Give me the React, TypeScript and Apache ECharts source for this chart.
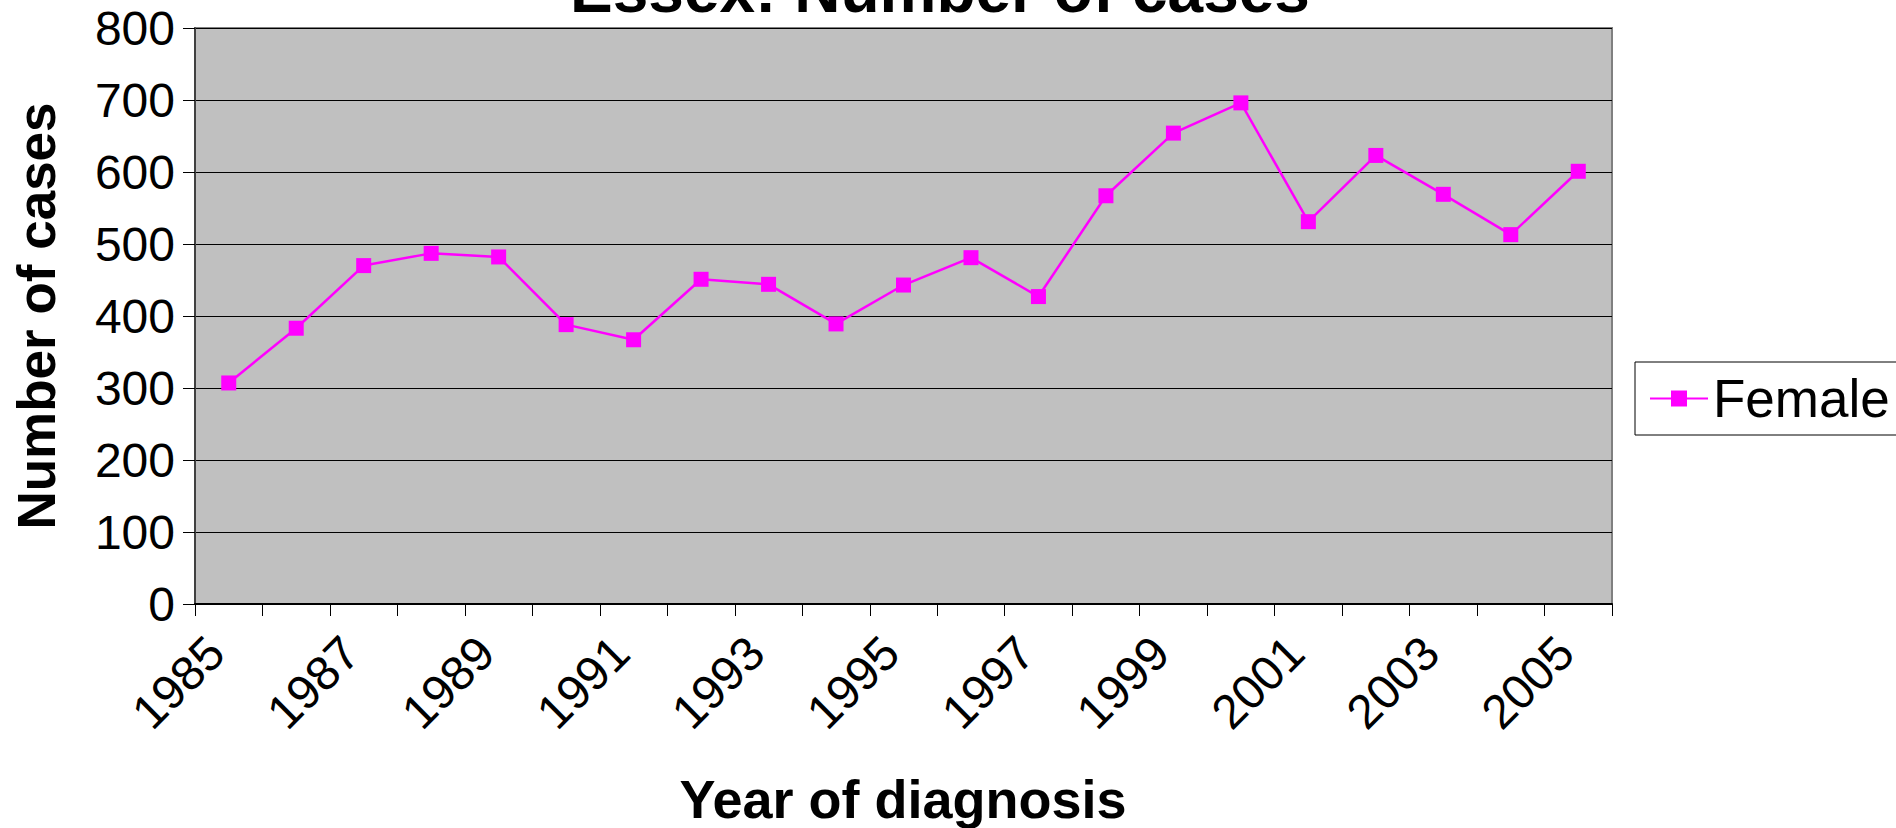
import React, { useEffect, useRef } from "react";
import * as echarts from "echarts";

const years = [
  "1985", "1986", "1987", "1988", "1989", "1990", "1991", "1992", "1993", "1994", "1995",
  "1996", "1997", "1998", "1999", "2000", "2001", "2002", "2003", "2004", "2005",
];
const female = [
  307, 383, 470, 487, 482, 388, 367, 451, 444, 389, 443,
  481, 427, 567, 654, 696, 531, 623, 569, 513, 601,
];
const yMin = 0;
const yMax = 800;
const yStep = 100;

const chartTitle = "Essex: Number of cases";
const seriesName = "Female";
const xTitle = "Year of diagnosis";
const yTitle = "Number of cases";

const FONT = "'Liberation Sans', Arial, Helvetica, sans-serif";
const MAGENTA = "#FF00FF";

export default function App() {
  const ref = useRef<HTMLDivElement>(null);

  useEffect(() => {
    if (!ref.current) return;
    const chart = echarts.init(ref.current, undefined, { renderer: "svg" });
    chart.setOption({
      animation: false,
      backgroundColor: "#ffffff",
      textStyle: { fontFamily: FONT },
      grid: {
        left: 195,
        top: 28,
        right: 1896 - 1612,
        bottom: 828 - 604,
        show: true,
        backgroundColor: "#C0C0C0",
        borderColor: "#808080",
        borderWidth: 2,
      },
      legend: {
        left: 1635,
        top: 362,
        orient: "horizontal",
        borderColor: "#000",
        borderWidth: 1,
        borderRadius: 0,
        padding: [10, 14, 10, 14],
        itemWidth: 58,
        itemHeight: 20,
        textStyle: { fontSize: 53, color: "#000", fontFamily: FONT },
        data: [seriesName],
      },
      graphic: [
        {
          type: "text",
          x: 940,
          y: -10,
          style: {
            text: chartTitle,
            fontSize: 64,
            fontWeight: "bold",
            fontFamily: FONT,
            fill: "#000",
            textAlign: "center",
            textVerticalAlign: "middle",
          },
        },
        {
          type: "text",
          x: 36,
          y: 316,
          rotation: Math.PI / 2,
          style: {
            text: yTitle,
            fontSize: 53,
            fontWeight: "bold",
            fontFamily: FONT,
            fill: "#000",
            textAlign: "center",
            textVerticalAlign: "middle",
          },
        },
        {
          type: "text",
          x: 903,
          y: 799,
          style: {
            text: xTitle,
            fontSize: 54,
            fontWeight: "bold",
            fontFamily: FONT,
            fill: "#000",
            textAlign: "center",
            textVerticalAlign: "middle",
          },
        },
      ],
      xAxis: {
        type: "category",
        data: years,
        boundaryGap: true,
        axisLine: { show: true, lineStyle: { color: "#000", width: 2 } },
        axisTick: { show: true, interval: 0, length: 12, lineStyle: { color: "#000", width: 1 } },
        axisLabel: {
          interval: 1,
          rotate: 45,
          margin: 28,
          padding: [0, 18, 0, 0],
          fontSize: 48,
          color: "#000",
          fontFamily: FONT,
        },
        splitLine: { show: false },
      },
      yAxis: {
        type: "value",
        min: yMin,
        max: yMax,
        interval: yStep,
        axisLine: { show: true, lineStyle: { color: "#404040", width: 2 } },
        axisTick: { show: true, length: 12, lineStyle: { color: "#000", width: 1 } },
        axisLabel: { margin: 20, fontSize: 48, color: "#000", fontFamily: FONT },
        splitLine: { show: true, lineStyle: { color: "#000", width: 1 } },
      },
      series: [
        {
          name: seriesName,
          type: "line",
          data: female,
          symbol: "rect",
          symbolSize: 15,
          lineStyle: { color: MAGENTA, width: 2.5 },
          itemStyle: { color: MAGENTA },
        },
      ],
    });
    return () => chart.dispose();
  }, []);

  return (
    <div
      ref={ref}
      style={{ position: "fixed", left: 0, top: 0, width: 1896, height: 828 }}
    />
  );
}
